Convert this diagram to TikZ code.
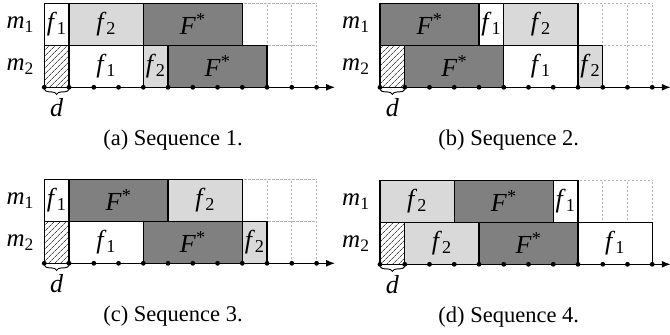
\documentclass[tikz,border=0pt]{standalone}
\usepackage{fontspec}
\setmainfont{Liberation Serif}
\usetikzlibrary{arrows.meta,patterns.meta,decorations.pathreplacing}

\definecolor{jobgray}{HTML}{D9D9D9}
\definecolor{stargray}{HTML}{808080}
\definecolor{slotgray}{HTML}{B4B4B4}

\newcommand{\fone}{\textit{f}\textsubscript{1}}
\newcommand{\ftwo}{\textit{f}\textsubscript{2}}
\newcommand{\fstar}{\textit{F}\textsuperscript{*}}

\begin{document}
\begin{tikzpicture}[
  every node/.style={font=\fontsize{26}{30}\selectfont},
  jobbox/.style={draw, line width=1.4pt},
  fonebox/.style={jobbox, fill=white},
  ftwobox/.style={jobbox, fill=jobgray},
  fstarbox/.style={jobbox, fill=stargray},
  delaybox/.style={jobbox, pattern={Lines[angle=45, distance=4pt, line width=0.7pt]}, pattern color=black!70},
  slot/.style={slotgray, line width=0.8pt, dash pattern=on 2.2pt off 1.8pt},
  timeline/.style={line width=1.4pt, -{Latex[length=9pt,width=7pt]}},
  delaybrace/.style={decorate, decoration={brace, amplitude=5pt}, line width=0.9pt},
  mlabel/.style={anchor=east, font=\fontsize{25}{28}\selectfont},
  caption/.style={font=\fontsize{22.5}{26}\selectfont}
]
  \useasboundingbox (0,0) rectangle (670pt,335pt);

  % Sequence 1
  \begin{scope}[shift={(44.3pt,247.7pt)}, x=24.75pt, y=42pt]
    \foreach \i in {1,...,11} \draw[slot] (\i,0) -- (\i,2);
    \draw[slot] (0,1) -- (11,1) (0,2) -- (11,2);
    \draw[fonebox]  (0,1) rectangle node (a1f1) {\fone} (1,2);
    \draw[ftwobox]  (1,1) rectangle node (a1f2) {\ftwo} (4,2);
    \draw[fstarbox] (4,1) rectangle node (a1F)  {\fstar} (8,2);
    \draw[delaybox] (0,0) rectangle (1,1);
    \draw[fonebox]  (1,0) rectangle node (a2f1) {\fone} (4,1);
    \draw[ftwobox]  (4,0) rectangle node (a2f2) {\ftwo} (5,1);
    \draw[fstarbox] (5,0) rectangle node (a2F)  {\fstar} (9,1);
    \draw[timeline] (-0.1,0) -- (11.75,0);
    \foreach \i in {0,...,11} \fill (\i,0) circle (2.4pt);
    \node[mlabel] (am1) at (-0.28,1.5) {\textit{m}\textsubscript{1}};
    \node[mlabel] (am2) at (-0.28,0.5) {\textit{m}\textsubscript{2}};
    \draw[delaybrace] (1,-0.05) -- (0,-0.05);
    \node (ad) at (0.5,-0.48) {\textit{d}};
    \node[caption] (acap) at (5.2,-1.25) {(a) Sequence 1.};
  \end{scope}

  % Sequence 2
  \begin{scope}[shift={(380pt,247.7pt)}, x=24.75pt, y=42pt]
    \foreach \i in {1,...,11} \draw[slot] (\i,0) -- (\i,2);
    \draw[slot] (0,1) -- (11,1) (0,2) -- (11,2);
    \draw[fstarbox] (0,1) rectangle node (b1F)  {\fstar} (4,2);
    \draw[fonebox]  (4,1) rectangle node (b1f1) {\fone} (5,2);
    \draw[ftwobox]  (5,1) rectangle node (b1f2) {\ftwo} (8,2);
    \draw[delaybox] (0,0) rectangle (1,1);
    \draw[fstarbox] (1,0) rectangle node (b2F)  {\fstar} (5,1);
    \draw[fonebox]  (5,0) rectangle node (b2f1) {\fone} (8,1);
    \draw[ftwobox]  (8,0) rectangle node (b2f2) {\ftwo} (9,1);
    \draw[timeline] (-0.1,0) -- (11.75,0);
    \foreach \i in {0,...,11} \fill (\i,0) circle (2.4pt);
    \node[mlabel] (bm1) at (-0.28,1.5) {\textit{m}\textsubscript{1}};
    \node[mlabel] (bm2) at (-0.28,0.5) {\textit{m}\textsubscript{2}};
    \draw[delaybrace] (1,-0.05) -- (0,-0.05);
    \node (bd) at (0.5,-0.48) {\textit{d}};
    \node[caption] (bcap) at (5.2,-1.25) {(b) Sequence 2.};
  \end{scope}

  % Sequence 3
  \begin{scope}[shift={(44.3pt,71.7pt)}, x=24.75pt, y=42pt]
    \foreach \i in {1,...,11} \draw[slot] (\i,0) -- (\i,2);
    \draw[slot] (0,1) -- (11,1) (0,2) -- (11,2);
    \draw[fonebox]  (0,1) rectangle node (c1f1) {\fone} (1,2);
    \draw[fstarbox] (1,1) rectangle node (c1F)  {\fstar} (5,2);
    \draw[ftwobox]  (5,1) rectangle node (c1f2) {\ftwo} (8,2);
    \draw[delaybox] (0,0) rectangle (1,1);
    \draw[fonebox]  (1,0) rectangle node (c2f1) {\fone} (4,1);
    \draw[fstarbox] (4,0) rectangle node (c2F)  {\fstar} (8,1);
    \draw[ftwobox]  (8,0) rectangle node (c2f2) {\ftwo} (9,1);
    \draw[timeline] (-0.1,0) -- (11.75,0);
    \foreach \i in {0,...,11} \fill (\i,0) circle (2.4pt);
    \node[mlabel] (cm1) at (-0.28,1.5) {\textit{m}\textsubscript{1}};
    \node[mlabel] (cm2) at (-0.28,0.5) {\textit{m}\textsubscript{2}};
    \draw[delaybrace] (1,-0.05) -- (0,-0.05);
    \node (cd) at (0.5,-0.48) {\textit{d}};
    \node[caption] (ccap) at (5.2,-1.25) {(c) Sequence 3.};
  \end{scope}

  % Sequence 4
  \begin{scope}[shift={(380pt,70.7pt)}, x=24.75pt, y=42pt]
    \foreach \i in {1,...,11} \draw[slot] (\i,0) -- (\i,2);
    \draw[slot] (0,1) -- (11,1) (0,2) -- (11,2);
    \draw[ftwobox]  (0,1) rectangle node (d1f2) {\ftwo} (3,2);
    \draw[fstarbox] (3,1) rectangle node (d1F)  {\fstar} (7,2);
    \draw[fonebox]  (7,1) rectangle node (d1f1) {\fone} (8,2);
    \draw[delaybox] (0,0) rectangle (1,1);
    \draw[ftwobox]  (1,0) rectangle node (d2f2) {\ftwo} (4,1);
    \draw[fstarbox] (4,0) rectangle node (d2F)  {\fstar} (8,1);
    \draw[fonebox]  (8,0) rectangle node (d2f1) {\fone} (11,1);
    \draw[timeline] (-0.1,0) -- (11.75,0);
    \foreach \i in {0,...,11} \fill (\i,0) circle (2.4pt);
    \node[mlabel] (dm1) at (-0.28,1.5) {\textit{m}\textsubscript{1}};
    \node[mlabel] (dm2) at (-0.28,0.5) {\textit{m}\textsubscript{2}};
    \draw[delaybrace] (1,-0.05) -- (0,-0.05);
    \node (dd) at (0.5,-0.48) {\textit{d}};
    \node[caption] (dcap) at (5.2,-1.25) {(d) Sequence 4.};
  \end{scope}
\end{tikzpicture}
\end{document}
